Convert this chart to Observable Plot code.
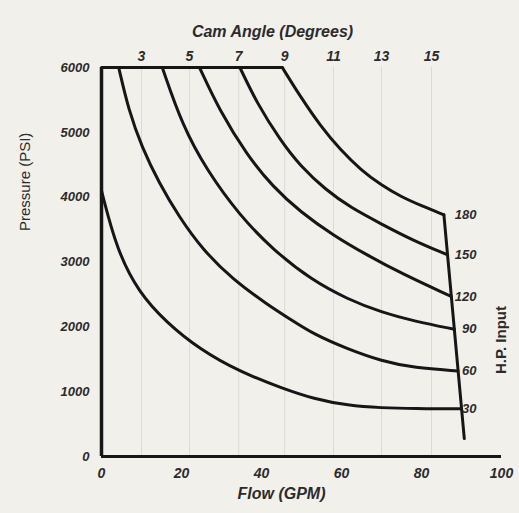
<!DOCTYPE html>
<html><head><meta charset="utf-8">
<script src="https://cdn.jsdelivr.net/npm/d3@7"></script>
<script src="https://cdn.jsdelivr.net/npm/@observablehq/plot@0.6"></script>
<style>
html,body{margin:0;padding:0;background:#f2f0eb;}
#chart svg{display:block;}
</style></head><body><div id="chart"></div>
<script>
// Horsepower input levels (labels at right)
const hpLevels = [30, 60, 90, 120, 150, 180];
// Constant-HP curves: [flow GPM, pressure PSI]
const curve30  = [[0,4100],[3.8,3190],[9.3,2530],[16.2,2070],[24.5,1655],[34.6,1305],[45.5,1045],[53,890],[61.6,785],[70,750],[78.3,738],[90.0,736]];
const curve60  = [[4.3,6000],[6.8,5337],[10.1,4770],[14.4,4218],[19.4,3696],[25.3,3190],[32.8,2730],[41.4,2347],[47.2,2117],[53,1887],[61.6,1656],[70,1472],[78.3,1365],[89.1,1320]];
const curve90  = [[15.2,6000],[20.2,5107],[26.3,4417],[34.6,3712],[42.9,3190],[52.3,2730],[61.6,2423],[70,2224],[78.3,2086],[88.2,1963]];
const curve120 = [[24.5,6000],[29.5,5337],[36.4,4647],[42.9,4156],[49.7,3773],[58.1,3405],[66.2,3114],[75,2822],[87.4,2469]];
const curve150 = [[34.6,6000],[38.9,5445],[44.7,4877],[49.7,4479],[56.1,4110],[62.4,3834],[69.9,3589],[77.5,3344],[86.4,3113]];
const curve180 = [[45.2,6000],[49.7,5552],[54.8,5092],[59.8,4724],[64.9,4417],[69.9,4187],[75,4003],[80.1,3865],[85.6,3727]];
// Maximum-flow boundary line
const maxFlowLine = [[85.6,3727],[90.7,276]];
// Axis ticks
const flowTicks = [0, 20, 40, 60, 80, 100];
const pressureTicks = [0, 1000, 2000, 3000, 4000, 5000, 6000];
const camAngles = [3, 5, 7, 9, 11, 13, 15];
const camFlow = [10, 22, 34.3, 45.8, 58, 70, 82.5];

const curves = [curve30, curve60, curve90, curve120, curve150, curve180];
const rows = curves.flatMap((c, i) => c.map(([f, p]) => ({hp: hpLevels[i], flow: f, pressure: p})));
const ends = curves.map((c, i) => ({hp: hpLevels[i], flow: c[c.length-1][0], pressure: c[c.length-1][1]}));
const cam = camAngles.map((a, i) => ({angle: a, flow: camFlow[i]}));
const topLine = [[0, 6000], curve180[0]];

const FONT = '"Liberation Sans Narrow","Liberation Sans",Arial,sans-serif';
const INK = "#161616";
const TXT = "#2b2b2b";

const chart = Plot.plot({
  width: 519,
  height: 513,
  marginLeft: 101,
  marginRight: 18,
  marginTop: 67,
  marginBottom: 57,
  style: {background: "#f2f0eb", fontFamily: FONT},
  x: {domain: [0, 100], axis: null},
  y: {domain: [0, 6000], axis: null},
  marks: [
    Plot.ruleX(cam, {x: "flow", y1: 0, y2: 6000, stroke: "#dcdad4", strokeWidth: 1}),
    Plot.axisX({ticks: flowTicks, tickSize: 0, tickPadding: 12, fontSize: 14, fontWeight: "bold", fontStyle: "italic", fill: TXT, label: null, tickFormat: d => String(d)}),
    Plot.axisY({ticks: pressureTicks, tickSize: 0, tickPadding: 12, fontSize: 13, fontWeight: "bold", fontStyle: "italic", fill: TXT, label: null, tickFormat: d => String(d)}),
    Plot.text(cam, {x: "flow", y: 6000, text: "angle", dy: -11, fontSize: 14, fontWeight: "bold", fontStyle: "italic", fill: TXT}),
    Plot.ruleY([0], {stroke: INK, strokeWidth: 3}),
    Plot.ruleX([0], {y1: 0, y2: 6000, stroke: INK, strokeWidth: 3.5}),
    Plot.line(topLine, {stroke: INK, strokeWidth: 3}),
    Plot.line(rows, {x: "flow", y: "pressure", z: "hp", curve: "basis", stroke: INK, strokeWidth: 3}),
    Plot.line(maxFlowLine, {stroke: INK, strokeWidth: 3}),
    Plot.text(ends, {y: "pressure", text: "hp", frameAnchor: "right", dx: -25, fontSize: 13, fontWeight: "bold", fontStyle: "italic", fill: TXT}),
    Plot.text(["Cam Angle (Degrees)"], {frameAnchor: "top", dx: -29, dy: -42, fontSize: 16, fontWeight: "bold", fontStyle: "italic", fill: TXT}),
    Plot.text(["Flow (GPM)"], {frameAnchor: "bottom", dx: -20, dy: 42, fontSize: 16, fontWeight: "bold", fontStyle: "italic", fill: TXT}),
    Plot.text(["Pressure (PSI)"], {frameAnchor: "left", dx: -76, dy: -31, rotate: -90, fontSize: 15, fill: TXT}),
    Plot.text(["H.P. Input"], {frameAnchor: "right", dx: 0, dy: 44, rotate: -90, fontSize: 15, fontWeight: "bold", fill: TXT})
  ]
});
document.getElementById("chart").append(chart);
</script>
</body></html>
